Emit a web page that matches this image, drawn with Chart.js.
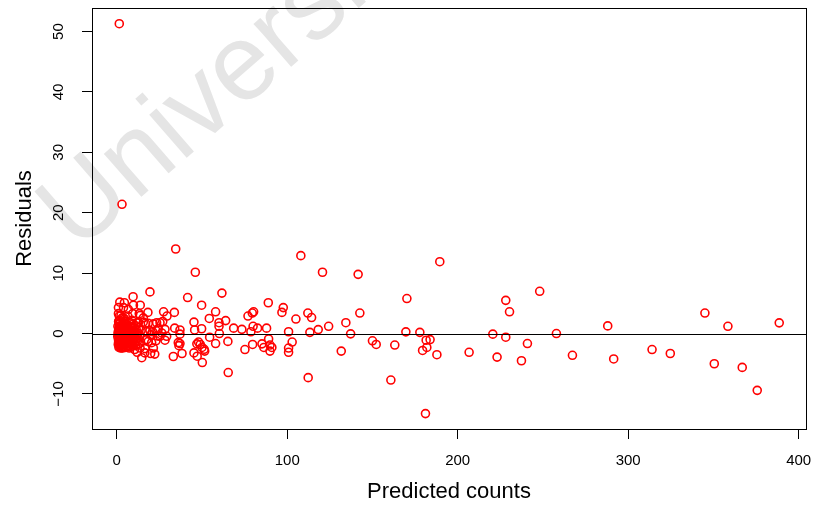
<!DOCTYPE html>
<html>
<head>
<meta charset="utf-8">
<script src="https://cdn.jsdelivr.net/npm/chart.js@4.4.1/dist/chart.umd.min.js"></script>
<style>
  body { margin: 0; background: #fff; }
</style>
</head>
<body>
<canvas id="residChart" width="814" height="506"></canvas>
<script>
// fitted values of the model (x) and their residuals (y)
const predicted = [
  1.5, 3.1,
  0.6, 0.9, 1.0, 1.3, 1.2, 1.4, 1.7, 1.5, 1.9, 1.6,
  2.1, 1.8, 2.4, 2.0, 2.6, 2.3, 2.2, 2.8, 2.5, 3.1,
  2.7, 3.3, 3.0, 3.6, 3.2, 3.9, 3.4, 3.7, 4.2, 3.5,
  4.4, 4.1, 4.0, 4.8, 4.6, 5.1, 4.3, 5.5, 4.9, 5.8,
  5.3, 4.7, 6.2, 5.6, 6.5, 6.0, 5.9, 6.8, 7.2, 6.4,
  7.5, 7.0, 7.9, 7.3, 8.3, 6.7, 8.6, 8.1, 9.2, 7.7,
  8.9, 9.5, 9.9, 8.4, 10.3, 10.7, 9.7, 11.1, 10.1, 11.6,
  10.9, 12.2, 11.4, 12.7, 11.9, 13.1, 12.4, 13.5, 12.9, 13.9,
  14.3, 0.7, 0.9, 1.1, 1.3, 1.4, 1.7, 2.0, 2.2, 2.5,
  2.9, 3.1, 3.4, 3.6, 3.8, 4.5, 5.2, 5.0, 5.7, 6.1,
  6.6, 0.8, 1.2, 1.5, 1.9, 2.3, 2.7, 3.3, 3.9, 4.2,
  4.7, 5.4, 6.3, 7.1, 7.8, 8.7, 9.3,
  1.1, 1.6, 2.1, 2.4, 2.8, 3.2, 3.5, 4.0, 4.4, 4.9,
  5.3, 5.8, 6.3, 6.9, 7.4, 8.0, 8.5, 9.0, 9.7, 10.4,
  1.0, 1.8, 2.6, 3.0, 3.5, 4.1, 4.6, 5.0, 5.6, 6.1,
  6.7, 7.3, 7.9, 8.4, 9.0, 9.6, 10.2, 10.8, 11.5, 12.1,
  1.0, 2.5, 1.5, 3.9, 6.5, 1.0, 4.0, 6.8, 1.8, 4.5,
  9.8, 13.8, 9.6, 9.4, 13.2, 13.7, 15.6, 12.7, 15.6, 18.3,
  19.5,
  16.8, 18.5, 21.5, 25.4, 23.4, 24.4, 28.3, 19.5,
  21.0, 23.0, 17.6, 20.0, 24.0, 26.4, 17.6, 18.5, 20.5,
  23.0, 28.3, 25.4, 29.3, 13.7, 16.6, 21.5, 12.0,
  14.7, 36.1, 16.5, 10.5, 19.9, 22.3,
  34.6, 46.1, 108.0, 120.7, 41.6, 61.7, 49.8, 88.9, 97.7, 96.9,
  112.1, 114.3, 79.5, 80.3, 77.0, 58.0, 54.3, 33.8, 27.5, 29.5,
  27.0, 63.9, 60.0, 60.0, 45.3, 105.1, 124.3, 134.4, 68.6, 73.4,
  80.0, 82.6, 87.9, 78.7, 100.8, 118.2, 113.3, 34.0, 37.1, 37.1,
  45.7, 49.8, 60.2, 54.5, 58.0, 65.2, 79.7, 85.2, 86.3, 89.1,
  89.9, 91.0, 89.9, 102.9, 100.8, 100.8, 75.2, 131.7, 37.1, 36.5,
  48.0, 47.0, 49.0, 50.0, 51.3, 51.6, 38.3, 45.3, 47.2, 33.2,
  50.2, 65.4, 112.3, 141.6, 142.6, 137.2, 150.0, 152.2, 163.1, 160.8,
  170.2, 169.6, 177.8, 181.5, 183.8, 179.4, 181.9, 181.1, 187.8, 189.5,
  206.7, 220.6, 228.2, 230.4, 228.2, 223.1, 240.9, 237.4, 248.1, 257.9,
  267.3, 288.0, 291.5, 314.0, 324.7, 345.0, 350.5, 358.5, 366.9, 375.7,
  388.6
];

const residuals = [
  51.3, 21.4,
  -0.5, 0.3, -1.0, 0.9, -0.2, 1.6, -1.6, 0.5, -0.8, 2.2,
  0.1, -1.3, 1.2, -0.4, -2.0, 0.7, 1.9, -0.9, 0.2, -1.7,
  1.4, -0.1, 0.9, -1.2, 2.6, -0.6, 0.4, -2.2, 1.7, -0.3,
  1.0, -1.5, 0.0, 2.0, -0.8, 0.6, -1.9, 1.3, -0.2, 0.8,
  -1.1, 2.4, -0.5, 0.3, -1.6, 1.5, -0.9, 0.1, -2.1, 1.1,
  -0.4, 0.7, -1.3, 1.9, -0.1, -0.7, 0.5, -1.8, 1.2, -0.3,
  2.2, -1.0, 0.2, -1.5, 0.9, -0.6, 1.6, -2.0, 0.4, -0.2,
  1.3, -1.2, 0.7, -0.8, 1.8, -1.7, 0.1, -0.4, 1.0, -1.4,
  0.5, 1.2, -1.8, 2.0, -2.3, 0.0, 1.0, -0.6, -1.5, 0.4,
  -0.2, 1.0, -2.4, 0.6, -1.0, 0.2, 1.5, 0.3, -0.1, 0.9,
  0.5, -0.1, 0.6, -0.7, 0.3, -1.1, 0.6, 1.2, -0.5, 0.8,
  -1.4, 0.0, -0.3, 0.4, -0.9, 0.3, -0.5,
  -1.4, -2.1, -1.9, -2.4, -1.4, -1.9, -1.5, -2.1, -1.2, -1.8,
  -2.3, -1.5, -2.0, -1.7, -2.4, -2.2, -0.8, -1.9, -1.3, -1.6,
  0.1, 0.8, -0.5, 0.2, 1.0, -0.3, 0.5, 1.1, -0.6, 0.0,
  0.7, -0.9, 0.4, 1.0, -0.2, 0.6, -0.4, 0.3, -0.9, -0.3,
  3.3, 3.0, 2.9, 2.6, 2.9, 4.3, 4.3, 4.0, 5.2, 5.1,
  4.7, 4.7, 6.1, 3.3, 3.3, 3.0, 2.6, 1.8, 1.9, 3.5,
  6.9,
  1.7, 1.7, 1.6, 1.8, 1.8, 0.8, 0.7, 0.5,
  0.3, 0.5, 0.3, -0.2, -0.4, 0.1, -1.0, -1.3, -1.5,
  -1.2, -1.1, -0.45, -0.45, -2.4, -2.5, -2.4, -3.1,
  -4.0, -1.5, -3.2, -2.65, -3.3, -3.4,
  14.0, 10.15, 12.9, 10.15, 5.96, 6.7, 4.7, 5.1, 4.3, 3.5,
  3.4, 2.65, 3.4, 3.6, 2.9, 3.6, 2.5, 3.5, 3.6, 2.9,
  2.0, 2.15, 1.8, 1.2, 1.9, 2.4, 1.2, 1.8, 0.9, 0.7,
  1.2, 0.9, 0.9, 0.3, 0.3, 0.66, 0.2, 0.9, 0.6, -0.1,
  0.6, 0.8, 0.0, -0.6, -1.65, -1.3, -1.8, -1.7, -2.3, -0.9,
  -1.9, -2.3, -2.9, -1.4, -2.4, -3.1, -2.65, -2.9, -1.65, -2.0,
  -1.4, -1.7, -1.8, -2.3, -2.6, -2.9, -3.3, -3.2, -3.75, -3.8,
  -4.8, -6.45, -7.3, 9.8, 3.4, -0.05, -1.2, -1.8, -1.9, -7.7,
  5.8, 0.28, 0.2, -1.1, -1.0, -2.8, -2.3, -13.25, -3.5, 11.9,
  -3.1, -0.1, 5.5, 3.6, -0.6, -3.9, -1.65, -4.5, 7.0, 0.0,
  -3.6, 1.27, -4.2, -2.65, -3.3, 3.4, -5.0, 1.2, -5.6, -9.4,
  1.77
];

const xTicks = [0, 100, 200, 300, 400];
const yTicks = [-10, 0, 10, 20, 30, 40, 50];
const xTitle = 'Predicted counts';
const yTitle = 'Residuals';
const watermark = 'University';

Chart.defaults.font.family = '"Liberation Sans", Arial, Helvetica, sans-serif';
Chart.defaults.color = '#000';

const points = predicted.map((p, i) => ({ x: p, y: residuals[i] }));

// background watermark, box round the plot and the line at zero
const rPlotExtras = {
    id: 'rPlotExtras',
    beforeDraw(chart) {
        const c = chart.ctx;
        c.save();
        c.translate(77, 253);
        c.rotate(-41 * Math.PI / 180);
        c.font = '108px "Liberation Sans", Arial, sans-serif';
        c.fillStyle = '#e5e5e5';
        c.textBaseline = 'alphabetic';
        c.fillText(watermark, 0, 0);
        c.restore();
    },
    afterDatasetsDraw(chart) {
        const c = chart.ctx;
        const area = chart.chartArea;
        const y0 = chart.scales.y.getPixelForValue(0);
        c.save();
        c.strokeStyle = '#000';
        c.lineWidth = 1;
        c.beginPath();
        c.moveTo(area.left, Math.round(y0) + 0.5);
        c.lineTo(area.right, Math.round(y0) + 0.5);
        c.stroke();
        c.strokeRect(Math.round(area.left) + 0.5, Math.round(area.top) + 0.5,
            Math.round(area.right - area.left), Math.round(area.bottom - area.top));
        c.restore();
    }
};

const ctx = document.getElementById('residChart').getContext('2d');
const residChart = new Chart(ctx, {
    type: 'scatter',
    data: {
        datasets: [{
            data: points,
            borderColor: '#ff0000',
            backgroundColor: 'rgba(0,0,0,0)',
            pointRadius: 4,
            pointBorderWidth: 1.6,
        }]
    },
    options: {
        responsive: false,
        animation: false,
        events: [],
        layout: { padding: { top: 8, right: 8, left: 0, bottom: 0 } },
        plugins: {
            legend: { display: false },
            tooltip: { enabled: false }
        },
        scales: {
            x: {
                type: 'linear',
                min: -14.5,
                max: 404.3,
                afterBuildTicks: (scale) => { scale.ticks = xTicks.map(v => ({ value: v })); },
                afterFit: (scale) => { scale.height = 77; scale.paddingLeft = 0; scale.paddingRight = 0; },
                border: { display: false },
                grid: { drawOnChartArea: false, tickLength: 10, color: '#000', lineWidth: 1 },
                ticks: {
                    autoSkip: false,
                    maxRotation: 0,
                    padding: 13,
                    font: { size: 15 },
                    callback: (v) => String(v)
                },
                title: {
                    display: true,
                    text: xTitle,
                    font: { size: 22 },
                    padding: { top: 0, bottom: 1 }
                }
            },
            y: {
                type: 'linear',
                min: -15.8,
                max: 53.9,
                afterBuildTicks: (scale) => { scale.ticks = yTicks.map(v => ({ value: v })); },
                afterFit: (scale) => { scale.width = 92; scale.paddingTop = 0; scale.paddingBottom = 0; },
                border: { display: false },
                grid: { drawOnChartArea: false, tickLength: 10, color: '#000', lineWidth: 1 },
                ticks: {
                    autoSkip: false,
                    minRotation: 90,
                    maxRotation: 90,
                    crossAlign: 'center',
                    padding: 10,
                    font: { size: 15 },
                    callback: (v) => String(v).replace('-', '\u2212')
                },
                title: {
                    display: true,
                    text: yTitle,
                    font: { size: 22 },
                    padding: { top: 12, bottom: 0 }
                }
            }
        }
    },
    plugins: [rPlotExtras]
});
</script>
</body>
</html>
